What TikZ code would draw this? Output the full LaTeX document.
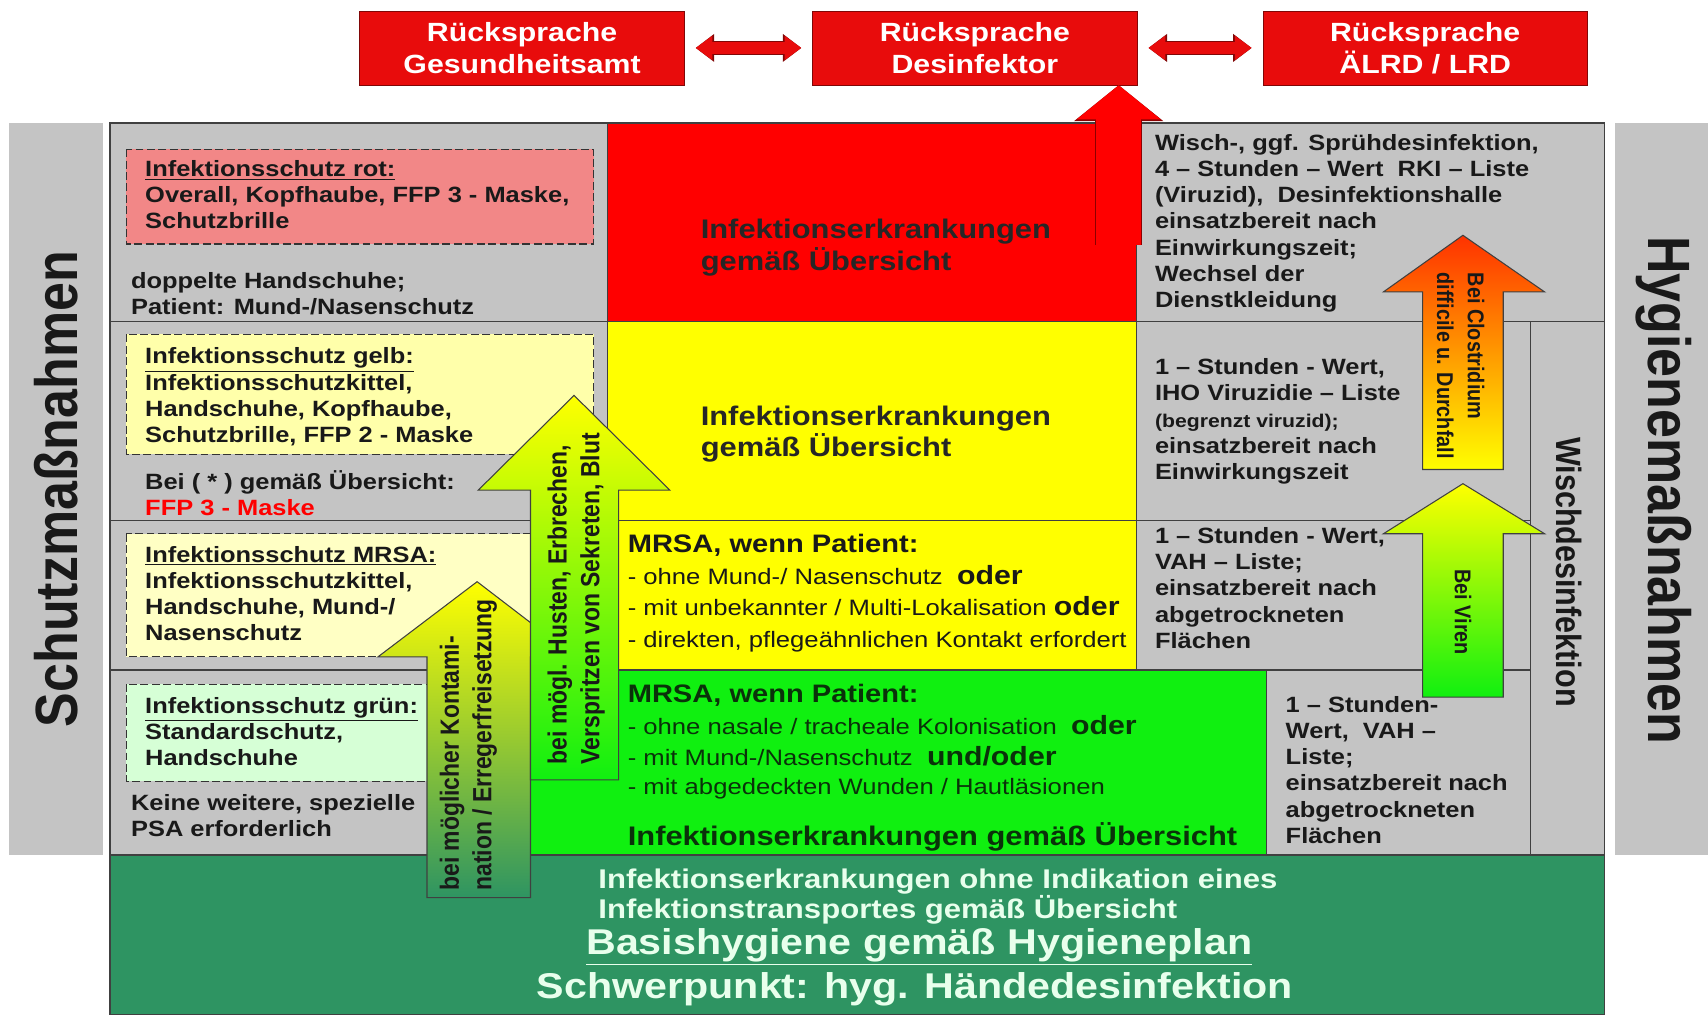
\documentclass[tikz,border=0pt]{standalone}
\usepackage{fontspec}
\setmainfont{Liberation Sans}[FakeStretch=1.15]
\newfontfamily\vertfont{Liberation Sans}[FakeStretch=0.87]
\usetikzlibrary{arrows.meta, positioning}

\definecolor{boxred}{RGB}{232,12,12}
\definecolor{alarmred}{RGB}{255,0,0}
\definecolor{alarmyellow}{RGB}{255,255,0}
\definecolor{alarmgreen}{RGB}{16,240,16}
\definecolor{basegreen}{RGB}{46,148,98}
\definecolor{cellgray}{RGB}{196,196,196}
\definecolor{pinkfill}{RGB}{242,135,135}
\definecolor{paleyellow}{RGB}{255,255,170}
\definecolor{paleyellowb}{RGB}{255,255,196}
\definecolor{palegreen}{RGB}{214,255,214}
\definecolor{deepgreen}{RGB}{10,50,10}
\definecolor{basetext}{RGB}{232,255,236}

\begin{document}
\begin{tikzpicture}[
  x=0.0218cm, y=-0.0218cm,
  font=\bfseries\fontsize{12.6}{14.9}\selectfont,
  topbox/.style={
    fill=boxred,
    draw=boxred!55!black,
    text=white,
    align=center,
    inner sep=0pt,
    minimum width=6.5cm,
    minimum height=1.48cm,
    font=\bfseries\fontsize{15}{18}\selectfont
  },
  dblarrow/.style={
    draw=boxred, line width=6.6pt,
    {Triangle[width=14pt, length=9.5pt, line width=0pt]}-{Triangle[width=14pt, length=9.5pt, line width=0pt]},
    shorten <=0.22cm, shorten >=0.22cm,
    preaction={draw=boxred!55!black, line width=8pt,
      {Triangle[width=16pt, length=10.5pt, line width=0pt]}-{Triangle[width=16pt, length=10.5pt, line width=0pt]}}
  },
  uparrow/.style={
    draw=alarmred, line width=25.5pt,
    -{Triangle[width=48pt, length=19.5pt, line width=0pt]},
    preaction={draw=alarmred!55!black, line width=27pt,
      -{Triangle[width=51pt, length=20.5pt, line width=0pt]}}
  },
  gridline/.style={draw=black!75, line width=0.7pt},
  pbox/.style={draw=black!80, dashed, dash pattern=on 4.5pt off 2pt, line width=0.6pt},
  blockshade/.style={draw=black!75, line width=0.6pt},
  celltext/.style={anchor=north west, align=left, inner sep=0pt, text=black!90},
  midtext/.style={anchor=north west, align=left, inner sep=0pt, text=black!85,
    font=\bfseries\fontsize{15.3}{18}\selectfont},
  mrsatext/.style={anchor=north west, align=left, inner sep=0pt, text=black!90,
    font=\mdseries\fontsize{12.7}{18}\selectfont},
  basetitle/.style={text=basetext, inner sep=0pt},
  sidelabel/.style={inner sep=0pt, text=black!90, font=\vertfont\bfseries\fontsize{34}{40}\selectfont},
  arrowlabel/.style={align=left, inner sep=0pt, text=black!90,
    font=\vertfont\bfseries\fontsize{15}{18.6}\selectfont}
]
\useasboundingbox (0,0) rectangle (1568,931);

% =========================
% Side bands and cells
% =========================
\fill[cellgray] (8,113) rectangle (95,785);
\fill[cellgray] (1483,113) rectangle (1568,785);
\fill[cellgray] (101,113) rectangle (1473,785);
\fill[alarmred] (558,113) rectangle (1043,295);
\fill[alarmyellow] (558,295) rectangle (1043,615);
\fill[alarmgreen] (487,615) rectangle (1163,785);
\fill[basegreen] (101,785) rectangle (1473,931);

\draw[gridline] (101,113) rectangle (1473,931);
\draw[gridline] (101,295) -- (1473,295);
\draw[gridline] (101,478) -- (1405,478);
\draw[gridline] (101,615) -- (1405,615);
\draw[gridline] (101,785) -- (1473,785);
\draw[gridline] (558,113) -- (558,615);
\draw[gridline] (1043,113) -- (1043,615);
\draw[gridline] (487,615) -- (487,785);
\draw[gridline] (1163,615) -- (1163,785);
\draw[gridline] (1405,295) -- (1405,785);

% dashed protection boxes
\filldraw[pbox, fill=pinkfill] (116,137) rectangle (545,224);
\filldraw[pbox, fill=paleyellow] (116,307) rectangle (545,417);
\filldraw[pbox, fill=paleyellowb] (116,490) rectangle (545,603);
\filldraw[pbox, fill=palegreen] (116,628) rectangle (430,717);

% =========================
% Top boxes
% =========================
\node[topbox] (desi) at (895,44) {Rücksprache\\Desinfektor};
\node[topbox, left=2.55cm of desi] (gesa) {Rücksprache\\Gesundheitsamt};
\node[topbox, right=2.5cm of desi] (lrd) {Rücksprache\\ÄLRD / LRD};

\draw[dblarrow] (gesa) -- (desi);
\draw[dblarrow] (desi) -- (lrd);

\coordinate (redfoot) at (1027,225);
\draw[uparrow] (redfoot) -- (redfoot |- desi.south);

% =========================
% Left column
% =========================
\node[celltext] (rottext) at (133,147)
{\underline{Infektionsschutz rot:}\\Overall, Kopfhaube, FFP 3 - Maske,\\Schutzbrille};
\node[celltext] (rotextra) at (120,250)
{doppelte Handschuhe;\\Patient: Mund-/Nasenschutz};

\node[celltext] (gelbtext) at (133,319)
{\underline{Infektionsschutz gelb:}\\Infektionsschutzkittel,\\Handschuhe, Kopfhaube,\\Schutzbrille, FFP 2 - Maske};
\node[celltext] (gelbextra) at (133,432)
{Bei ( * ) gemäß Übersicht:\\\textcolor{alarmred}{FFP 3 - Maske}};

\node[celltext] (mrsatext) at (133,501)
{\underline{Infektionsschutz MRSA:}\\Infektionsschutzkittel,\\Handschuhe, Mund-/\\Nasenschutz};

\node[celltext] (gruentext) at (133,640)
{\underline{Infektionsschutz grün:}\\Standardschutz,\\Handschuhe};
\node[celltext] (gruenextra) at (120,729)
{Keine weitere, spezielle\\PSA erforderlich};

% =========================
% Middle column
% =========================
\node[midtext] (rotmid) at (643,201) {Infektionserkrankungen\\gemäß Übersicht};
\node[midtext] (gelbmid) at (643,372) {Infektionserkrankungen\\gemäß Übersicht};

\node[mrsatext] (mrsagelb) at (576,490)
{{\bfseries\fontsize{14.4}{18}\selectfont MRSA, wenn Patient:}\\
- ohne Mund-/ Nasenschutz~~{\bfseries\fontsize{15}{18}\selectfont oder}\\
- mit unbekannter / Multi-Lokalisation {\bfseries\fontsize{15}{18}\selectfont oder}\\
- direkten, pflegeähnlichen Kontakt erfordert};

\node[mrsatext, text=deepgreen] (mrsagruen) at (576,628)
{{\bfseries\fontsize{14.4}{18}\selectfont MRSA, wenn Patient:}\\
- ohne nasale / tracheale Kolonisation~~{\bfseries\fontsize{15}{18}\selectfont oder}\\
- mit Mund-/Nasenschutz~~{\bfseries\fontsize{15}{18}\selectfont und/oder}\\[-2pt]
- mit abgedeckten Wunden / Hautläsionen};
\node[midtext, text=deepgreen] (gruenmid) at (576,755) {Infektionserkrankungen gemäß Übersicht};

% =========================
% Right column
% =========================
\node[celltext] (rotright) at (1060,123)
{Wisch-, ggf. Sprühdesinfektion,\\4 – Stunden – Wert~~RKI – Liste\\(Viruzid),~~Desinfektionshalle\\einsatzbereit nach\\Einwirkungszeit;\\Wechsel der\\Dienstkleidung};
\node[celltext] (gelbright) at (1060,329)
{1 – Stunden - Wert,\\IHO Viruzidie – Liste\\{\fontsize{10.5}{14.9}\selectfont (begrenzt viruzid);}\\einsatzbereit nach\\Einwirkungszeit};
\node[celltext] (mrsaright) at (1060,484)
{1 – Stunden - Wert,\\VAH – Liste;\\einsatzbereit nach\\abgetrockneten\\Flächen};
\node[celltext] (gruenright) at (1180,639)
{1 – Stunden-\\Wert,~~VAH –\\Liste;\\einsatzbereit nach\\abgetrockneten\\Flächen};

% =========================
% Bottom
% =========================
\node[basetitle, anchor=north west, align=left, font=\bfseries\fontsize{15.4}{17.4}\selectfont] (basenote) at (549,797)
{Infektionserkrankungen ohne Indikation eines\\Infektionstransportes gemäß Übersicht};
\node[basetitle, font=\bfseries\fontsize{20.4}{24}\selectfont] (basisplan) at (844,869)
{\underline{Basishygiene gemäß Hygieneplan}};
\node[basetitle, font=\bfseries\fontsize{20.4}{24}\selectfont] (schwerpunkt) at (840,908)
{Schwerpunkt: hyg. Händedesinfektion};

% =========================
% Block arrows
% =========================
\shadedraw[blockshade, top color=alarmyellow, bottom color=basegreen]
  (392,824) -- (392,603) -- (347,603) -- (438,534) -- (528,603) -- (487,603) -- (487,824) -- cycle;
\shadedraw[blockshade, top color=alarmyellow, bottom color=alarmgreen]
  (487,716) -- (487,450) -- (439,450) -- (527,363) -- (615,450) -- (568,450) -- (568,716) -- cycle;
\shadedraw[blockshade, top color={rgb,255:red,255;green,50;blue,0}, bottom color=alarmyellow]
  (1306,431) -- (1306,268) -- (1270,268) -- (1343,216) -- (1418,268) -- (1380,268) -- (1380,431) -- cycle;
\shadedraw[blockshade, top color=alarmyellow, bottom color=alarmgreen]
  (1306,640) -- (1306,490) -- (1270,490) -- (1343,444) -- (1418,490) -- (1380,490) -- (1380,640) -- cycle;

\node[arrowlabel, rotate=90, anchor=west] (kontlabel) at (430,818)
{bei möglicher Kontami-\\nation / Erregerfreisetzung};
\node[arrowlabel, rotate=90, anchor=west] (huslabel) at (529,702)
{bei mögl. Husten, Erbrechen,\\Verspritzen von Sekreten, Blut};
\node[arrowlabel, rotate=-90, anchor=west, font=\vertfont\bfseries\fontsize{13}{17.5}\selectfont] (closlabel) at (1341,250)
{Bei Clostridium\\difficile u. Durchfall};
\node[arrowlabel, rotate=-90, font=\vertfont\bfseries\fontsize{13}{17.5}\selectfont] (virlabel) at (1343,562)
{Bei Viren};

% =========================
% Side labels
% =========================
\node[sidelabel, rotate=90] (schutz) at (52,449) {Schutzmaßnahmen};
\node[sidelabel, rotate=-90] (hygiene) at (1527,450) {Hygienemaßnahmen};
\node[sidelabel, rotate=-90, font=\vertfont\bfseries\fontsize{20}{24}\selectfont] (wisch) at (1440,525) {Wischdesinfektion};

\end{tikzpicture}
\end{document}
